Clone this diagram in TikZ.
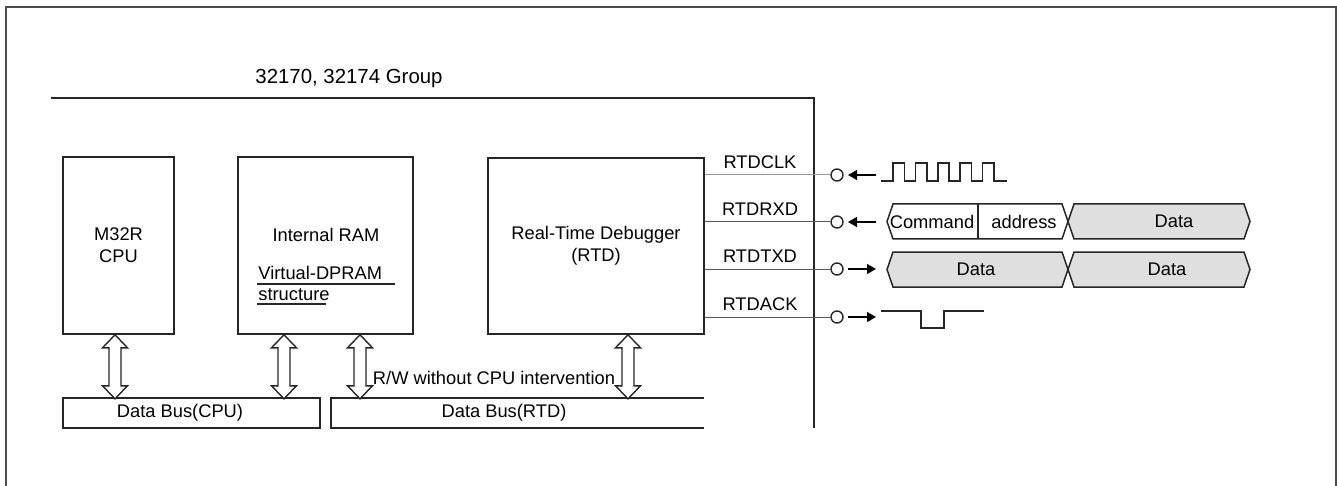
\documentclass[tikz,border=0pt]{standalone}
\usepackage{fontspec}
\setmainfont{Liberation Sans}
\usepackage{tikz}
\usetikzlibrary{arrows.meta,calc}

% hollow double arrow between a block and a data bus (64 px high)
\newcommand{\dblarrow}[1]{%
  \draw[dbl] #1 -- ++(12.5,13) -- ++(-6.5,0) -- ++(0,38) -- ++(6.5,0)
    -- ++(-12.5,13) -- ++(-12.5,-13) -- ++(6.5,0) -- ++(0,-38) -- ++(-6.5,0) -- cycle;}
% one bus cell of a timing chart: left x, right x, middle y, fill
\newcommand{\buscell}[4]{%
  \draw[wave,fill=#4] (#1,#3) -- ++(6,-17.5) -- (#2-6,#3-17.5) -- (#2,#3)
    -- (#2-6,#3+17.5) -- (#1+6,#3+17.5) -- cycle;}

\begin{document}
\begin{tikzpicture}[x=0.5pt,y=-0.5pt,
    font=\fontsize{9.15}{11}\selectfont,
    blk/.style={draw=black!85,line width=0.8pt,inner sep=0pt,align=center},
    dbl/.style={draw=black!85,line width=0.7pt,fill=white,line join=miter},
    sig/.style={black!65,line width=0.5pt},
    pin/.style={circle,draw=black!85,line width=0.7pt,fill=white,minimum size=6pt,inner sep=0pt},
    dir/.style={line width=0.7pt,-{Triangle[length=4.5pt,width=5pt]}},
    wave/.style={draw=black!85,line width=0.75pt},
    txt/.style={inner sep=0pt}]
    \useasboundingbox (0,0) rectangle (1337,486);

    % Outer frame (open at the bottom)
    \draw[black!70,line width=1pt] (6,486) -- (6,7.5) -- (1335.5,7.5) -- (1335.5,486);

    % Chip boundary
    \node[txt,font=\fontsize{10.2}{12}\selectfont] (grp) at (349,78) {32170, 32174 Group};
    \draw[black!85,line width=0.75pt] (51,98) -- (814,98) -- (814,428);

    % Blocks
    \node[blk,minimum width=55.5pt,minimum height=88.5pt] (cpu) at (118.5,245.5) {M32R\\CPU};
    \node[blk,minimum width=87.5pt,minimum height=88.5pt] (ram) at (325.5,245.5) {};
    \node[txt] (ramt) at (326,235) {Internal RAM};
    \node[txt,anchor=west] (vdp) at (258,273) {Virtual-DPRAM};
    \node[txt,anchor=west] (vds) at (258,295) {structure};
    \draw[black!85,line width=0.6pt] (257,284) -- (395,284);
    \draw[black!85,line width=0.6pt] (257,304) -- (326,304);
    \node[blk,minimum width=108pt,minimum height=88pt] (rtd) at (596,246) {Real-Time Debugger\\(RTD)};

    % Data buses
    \node[blk,minimum width=128.5pt,minimum height=15pt] (cpubus) at (191.5,413) {};
    \node[txt] (cpubust) at (180,413) {Data Bus(CPU)};
    \draw[black!85,line width=0.8pt] (704,398) -- (331,398) -- (331,428) -- (704,428);
    \node[txt] (rtdbus) at (504,413) {Data Bus(RTD)};

    % Bus transfers
    \dblarrow{($(cpu.south)+(-3.5,0)$)}
    \dblarrow{($(ram.south)+(-41.5,0)$)}
    \dblarrow{($(ram.south)+(34.5,0)$)}
    \dblarrow{($(rtd.south)+(32,0)$)}
    \node[txt] (rw) at (494,378) {R/W without CPU intervention};

    % RTD pins
    \foreach \nm/\yy/\lab [count=\i] in {clk/175/RTDCLK,rxd/222/RTDRXD,txd/269/RTDTXD,ack/317/RTDACK} {
        \node[pin] (p\nm) at (837,\yy) {};
        \draw[sig] (rtd.east |- p\nm) -- (p\nm);
        \node[txt] (l\nm) at (760,\yy-13) {\lab};
    }
    \draw[sig,black!40] (rtd.east |- pclk) -- (pclk);

    % Direction arrows
    \draw[dir] ($(pclk)+(39,0)$) -- ($(pclk)+(11,0)$);
    \draw[dir] ($(prxd)+(39,0)$) -- ($(prxd)+(11,0)$);
    \draw[dir] ($(ptxd)+(11,0)$) -- ($(ptxd)+(39,0)$);
    \draw[dir] ($(pack)+(11,0)$) -- ($(pack)+(39,0)$);

    % RTDCLK waveform
    \draw[wave] (881,181) -- (893,181)
        \foreach \k in {1,...,5} { -- ++(0,-18) -- ++(11.4,0) -- ++(0,18) -- ++(11,0) }
        -- (1007,181);

    % RTDRXD frame
    \buscell{887}{1068}{221.5}{white}
    \draw[wave] (978,204) -- (978,239);
    \buscell{1068}{1250}{221.5}{gray!25}
    \node[txt] (cmd) at (932,221.5) {Command};
    \node[txt] (adr) at (1024,221.5) {address};
    \node[txt] (rdat) at (1174,221.5) {Data};

    % RTDTXD frame
    \buscell{887}{1068}{269.5}{gray!25}
    \buscell{1068}{1250}{269.5}{gray!25}
    \node[txt] (tdat1) at (976,269.5) {Data};
    \node[txt] (tdat2) at (1167,269.5) {Data};

    % RTDACK waveform
    \draw[wave] (881,311) -- (921,311) -- (921,328) -- (944,328) -- (944,311) -- (984,311);

\end{tikzpicture}
\end{document}
